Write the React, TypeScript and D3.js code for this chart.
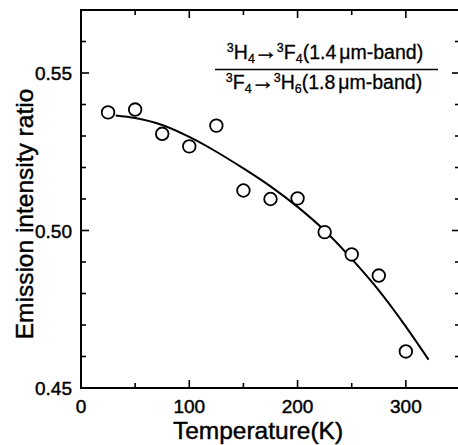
import React from "react";
import * as d3 from "d3";

const temps = [25, 50, 75, 100, 125, 150, 175, 200, 225, 250, 275, 300];
const ratios = [0.5375, 0.5384, 0.5307, 0.5267, 0.5333, 0.5127, 0.51, 0.5102, 0.4995, 0.4924, 0.4857, 0.4616];

const fitTemps = [32, 50, 75, 100, 125, 150, 175, 200, 225, 250, 275, 300, 321];
const fitRatios = [0.5365, 0.5357, 0.5335, 0.5297, 0.525, 0.5197, 0.514, 0.5075, 0.5, 0.491, 0.481, 0.4695, 0.459];

const xMajor = [0, 100, 200, 300];
const xMinor = [50, 150, 250];
const yMajor = [0.45, 0.5, 0.55];
const yMinor = [0.46, 0.47, 0.48, 0.49, 0.51, 0.52, 0.53, 0.54, 0.56];

const W = 458;
const H = 445;
const L = 81;
const R = 460;
const T = 10;
const B = 388;

export default function App() {
  const x = d3.scaleLinear().domain([0, 350]).range([L, R]);
  const y = d3.scaleLinear().domain([0.45, 0.57]).range([B, T]);
  const line = d3
    .line<number>()
    .x((_, i) => x(fitTemps[i]))
    .y((d) => y(d))
    .curve(d3.curveMonotoneX);
  const font = "'Liberation Sans', Arial, sans-serif";
  const maj = 8;
  const min = 5;
  const ts = { stroke: "#000", strokeWidth: 0.45 };
  return (
    <svg width={W} height={H} style={{ position: "absolute", left: 0, top: 0, background: "#fff" }} fontFamily={font}>
      <rect x={0} y={0} width={W} height={H} fill="#fff" />
      {/* frame */}
      <path d={`M${L},${T} L${L},${B} L${R},${B} L${R},${T} Z`} fill="none" stroke="#000" strokeWidth={2} />
      {/* x ticks bottom & top */}
      {xMajor.map((v) => (
        <g key={"xm" + v}>
          <line x1={x(v)} x2={x(v)} y1={B} y2={B - maj} stroke="#000" strokeWidth={1.6} />
          <line x1={x(v)} x2={x(v)} y1={T} y2={T + maj} stroke="#000" strokeWidth={1.6} />
          <text x={x(v)} y={413} fontSize={19} textAnchor="middle" {...ts}>{v}</text>
        </g>
      ))}
      {xMinor.map((v) => (
        <g key={"xn" + v}>
          <line x1={x(v)} x2={x(v)} y1={B} y2={B - min} stroke="#000" strokeWidth={1.6} />
          <line x1={x(v)} x2={x(v)} y1={T} y2={T + min} stroke="#000" strokeWidth={1.6} />
        </g>
      ))}
      {yMajor.map((v) => (
        <g key={"ym" + v}>
          <line x1={L} x2={L + maj} y1={y(v)} y2={y(v)} stroke="#000" strokeWidth={1.6} />
          <line x1={R} x2={R - maj} y1={y(v)} y2={y(v)} stroke="#000" strokeWidth={1.6} />
          <text x={72} y={y(v) + 7} fontSize={19} textAnchor="end" {...ts}>{v.toFixed(2)}</text>
        </g>
      ))}
      {yMinor.map((v) => (
        <g key={"yn" + v}>
          <line x1={L} x2={L + min} y1={y(v)} y2={y(v)} stroke="#000" strokeWidth={1.6} />
          <line x1={R} x2={R - min} y1={y(v)} y2={y(v)} stroke="#000" strokeWidth={1.6} />
        </g>
      ))}
      {/* fit curve */}
      <path d={line(fitRatios) || ""} fill="none" stroke="#000" strokeWidth={2} />
      {/* data points */}
      {ratios.map((v, i) => (
        <circle key={i} cx={x(temps[i])} cy={y(v)} r={6.3} fill="#fff" stroke="#000" strokeWidth={1.8} />
      ))}
      {/* axis titles */}
      <text x={258} y={439} fontSize={24.5} textAnchor="middle" {...ts}>Temperature(K)</text>
      <text transform={`translate(33,214) rotate(-90)`} fontSize={24.5} textAnchor="middle" {...ts}>Emission intensity ratio</text>
      {/* legend fraction */}
      <text x={325} y={59} fontSize={19.5} textAnchor="middle" stroke="#000" strokeWidth={0.3}>
        <tspan fontSize={12.5} dy={-7}>3</tspan>
        <tspan dy={7}>H</tspan>
        <tspan fontSize={12.5} dy={4}>4</tspan>
        <tspan fontSize={24} dy={-4} dx={-1}>→</tspan>
        <tspan fontSize={12.5} dy={-7} dx={-1}>3</tspan>
        <tspan dy={7}>F</tspan>
        <tspan fontSize={12.5} dy={4}>4</tspan>
        <tspan dy={-4}>(1.4</tspan>
        <tspan dx={3}>μm-band)</tspan>
      </text>
      <line x1={215} x2={438} y1={69.5} y2={69.5} stroke="#000" strokeWidth={1.6} />
      <text x={324} y={89} fontSize={19.5} textAnchor="middle" stroke="#000" strokeWidth={0.3}>
        <tspan fontSize={12.5} dy={-7}>3</tspan>
        <tspan dy={7}>F</tspan>
        <tspan fontSize={12.5} dy={4}>4</tspan>
        <tspan fontSize={24} dy={-4} dx={-1}>→</tspan>
        <tspan fontSize={12.5} dy={-7} dx={-1}>3</tspan>
        <tspan dy={7}>H</tspan>
        <tspan fontSize={12.5} dy={4}>6</tspan>
        <tspan dy={-4}>(1.8</tspan>
        <tspan dx={3}>μm-band)</tspan>
      </text>
    </svg>
  );
}
